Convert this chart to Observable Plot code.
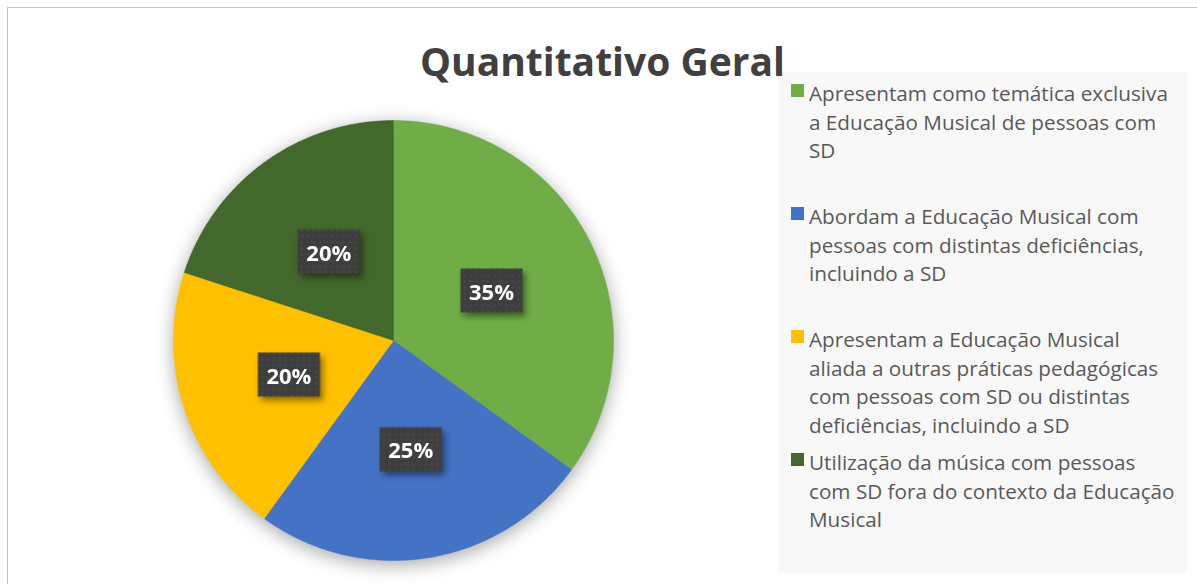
<!DOCTYPE html>
<html>
<head>
<meta charset="utf-8">
<script src="https://cdn.jsdelivr.net/npm/d3@7"></script>
<script src="https://cdn.jsdelivr.net/npm/@observablehq/plot@0.6"></script>
<style>
  html, body { margin: 0; padding: 0; background: #fff; overflow: hidden; }
  #wrap { position: relative; width: 1197px; height: 584px; overflow: hidden; font-family: "Open Sans", sans-serif; }
  #frame { position: absolute; left: 7px; top: 7px; width: 1300px; height: 700px; border: 1.4px solid #c4c4c4; box-sizing: border-box; }
  #chart { position: absolute; left: 0; top: 0; }
  #title { position: absolute; left: 420px; top: 41px; font-size: 39px; font-weight: 700; color: #404040; line-height: 39px; white-space: nowrap; z-index: 5; }
  #legend { position: absolute; left: 778px; top: 72px; width: 409px; height: 501px; background: #f8f8f8; z-index: 1; }
  .item { position: absolute; left: 0; }
  .sw { position: absolute; left: 13px; width: 13px; height: 13px; }
  .txt { position: absolute; left: 31px; font-size: 20.7px; line-height: 28.7px; color: #595959; white-space: nowrap; }
</style>
</head>
<body>
<div id="wrap">
  <div id="frame"></div>
  <div id="chart"></div>
  <div id="legend"></div>
  <div id="title">Quantitativo Geral</div>
</div>
<script>
const categories = [
  "Apresentam como temática exclusiva a Educação Musical de pessoas com SD",
  "Abordam a Educação Musical com pessoas com distintas deficiências, incluindo a SD",
  "Apresentam a Educação Musical aliada a outras práticas pedagógicas com pessoas com SD ou distintas deficiências, incluindo a SD",
  "Utilização da música com pessoas com SD fora do contexto da Educação Musical"
];
const legendLines = [
  ["Apresentam como temática exclusiva", "a Educação Musical de pessoas com", "SD"],
  ["Abordam a Educação Musical com", "pessoas com distintas deficiências,", "incluindo a SD"],
  ["Apresentam a Educação Musical", "aliada a outras práticas pedagógicas", "com pessoas com SD ou distintas", "deficiências, incluindo a SD"],
  ["Utilização da música com pessoas", "com SD fora do contexto da Educação", "Musical"]
];
const values = [35, 25, 20, 20];
const colors = ["#70AD47", "#4472C4", "#FFC000", "#43682B"];

// pie geometry from the data (angles clockwise from 12 o'clock)
const arcs = d3.pie().sort(null).value(d => d)(values);
const slicePoints = [];
arcs.forEach((a, i) => {
  const cat = categories[i];
  slicePoints.push({cat, x: 0, y: 0});
  const n = Math.max(2, Math.ceil((a.endAngle - a.startAngle) / 0.01));
  for (let k = 0; k <= n; k++) {
    const t = a.startAngle + (a.endAngle - a.startAngle) * k / n;
    slicePoints.push({cat, x: Math.sin(t), y: Math.cos(t)});
  }
  slicePoints.push({cat, x: 0, y: 0});
});
const labels = arcs.map((a, i) => {
  const m = (a.startAngle + a.endAngle) / 2;
  return {cat: categories[i], x: 0.5 * Math.sin(m), y: 0.5 * Math.cos(m), text: values[i] + "%"};
});

const boxSymbol = { draw(ctx) { ctx.rect(-31, -22, 62, 44); } };

const plot = Plot.plot({
  width: 1197,
  height: 584,
  margin: 0,
  style: { fontFamily: "Open Sans, sans-serif", background: "transparent", overflow: "visible" },
  x: { domain: [-1, 1], range: [173, 613], axis: null },
  y: { domain: [-1, 1], range: [560, 120], axis: null },
  color: { domain: categories, range: colors },
  marks: [
    Plot.line(slicePoints, { x: "x", y: "y", z: "cat", fill: "cat", stroke: "cat", strokeWidth: 0.5, curve: "linear" }),
    Plot.dot(labels, { x: "x", y: "y", symbol: boxSymbol, fill: "#404040", stroke: "none", r: 10 }),
    Plot.text(labels, { x: "x", y: "y", text: "text", fill: "white", fontSize: 22, fontWeight: 700, dy: 2 })
  ]
});
document.getElementById("chart").appendChild(plot);

// subtle dotted texture on the label boxes
const svg = d3.select(plot);
const defs = svg.insert("defs", ":first-child");
const pat = defs.append("pattern").attr("id", "dotsPat").attr("patternUnits", "userSpaceOnUse").attr("width", 6).attr("height", 6);
pat.append("rect").attr("width", 6).attr("height", 6).attr("fill", "#3e3e3e");
pat.append("circle").attr("cx", 3).attr("cy", 3).attr("r", 1.1).attr("fill", "#4d4d4d");
svg.selectAll('g[aria-label="dot"] path').attr("fill", "url(#dotsPat)");

svg.selectAll('g[aria-label="line"]').style("filter", "drop-shadow(0px 4px 9px rgba(0,0,0,0.35))");
svg.selectAll('g[aria-label="dot"]').style("filter", "drop-shadow(3px 4px 3px rgba(0,0,0,0.45))");

// legend
const tops = [9, 132, 255, 378];
const legend = d3.select("#legend");
legendLines.forEach((lines, i) => {
  const it = legend.append("div").attr("class", "item").style("top", tops[i] + "px");
  it.append("div").attr("class", "sw").style("top", "3px").style("background", colors[i]);
  const tx = it.append("div").attr("class", "txt").style("top", "-2px");
  tx.html(lines.join("<br>"));
});
</script>
</body>
</html>
